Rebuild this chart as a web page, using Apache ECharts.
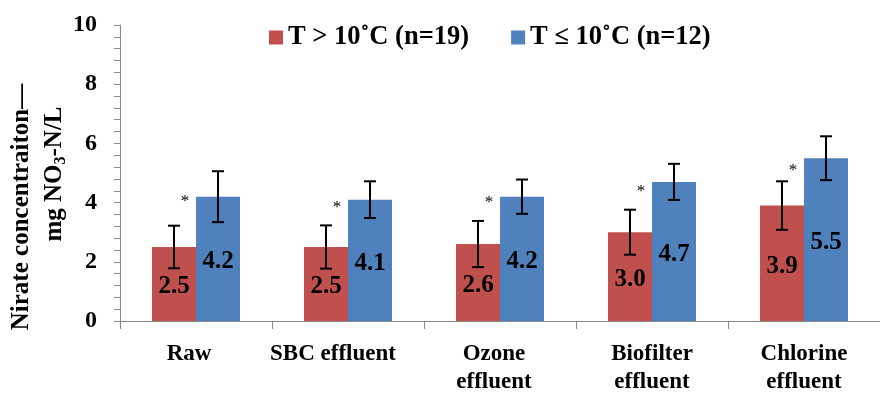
<!DOCTYPE html>
<html>
<head>
<meta charset="utf-8">
<script src="https://cdn.jsdelivr.net/npm/echarts@6/dist/echarts.min.js"></script>
<style>
html,body{margin:0;padding:0;background:#fff;}
#chart{width:880px;height:396px;}
</style>
</head>
<body>
<div id="chart"></div>
<script>
const categories = ['Raw', 'SBC effluent', 'Ozone\neffluent', 'Biofilter\neffluent', 'Chlorine\neffluent'];
const seriesNames = ['T > 10\u02DAC (n=19)', 'T \u2264 10\u02DAC (n=12)'];
const warmValues = [2.5, 2.5, 2.6, 3.0, 3.9];
const coldValues = [4.2, 4.1, 4.2, 4.7, 5.5];
const warmErrors = [0.72, 0.73, 0.78, 0.76, 0.82];
const coldErrors = [0.86, 0.62, 0.58, 0.61, 0.74];
const asteriskY = [4.02, 3.85, 3.99, 4.36, 5.10];
const yTicks = [0, 2, 4, 6, 8, 10];

const FONT = '"Liberation Serif", "Times New Roman", serif';
const RED = '#C0504D';
const BLUE = '#4F81BD';
const BAR_W = 44;
// horizontal label nudges (right padding in px shifts label left by half)
const labelPad = [14, 30, 12, 0, 0];

const chart = echarts.init(document.getElementById('chart'), null, {renderer: 'canvas'});

function errorSeries(values, errors, dx) {
  return {
    type: 'custom',
    silent: true,
    z: 5,
    data: values.map((v, i) => [i, v, errors[i]]),
    renderItem: function (params, api) {
      const i = api.value(0), v = api.value(1), e = api.value(2);
      const top = api.coord([i, v + e]);
      const bot = api.coord([i, v - e]);
      const x = top[0] + dx;
      const cap = 6;
      const st = {stroke: '#000', lineWidth: 2};
      return {
        type: 'group',
        children: [
          {type: 'line', shape: {x1: x, y1: top[1], x2: x, y2: bot[1]}, style: st},
          {type: 'line', shape: {x1: x - cap, y1: top[1], x2: x + cap, y2: top[1]}, style: st},
          {type: 'line', shape: {x1: x - cap, y1: bot[1], x2: x + cap, y2: bot[1]}, style: st}
        ]
      };
    }
  };
}

const rich = {};
labelPad.forEach(function (p, i) {
  rich['c' + i] = {
    fontFamily: FONT, fontWeight: 'bold', fontSize: 23, lineHeight: 28, color: '#000',
    padding: [0, p, 0, 0]
  };
});

const option = {
  animation: false,
  backgroundColor: '#fff',
  textStyle: {fontFamily: FONT},
  legend: {
    data: seriesNames,
    left: 264,
    top: 19,
    itemWidth: 14,
    itemHeight: 14,
    itemGap: 42,
    icon: 'rect',
    textStyle: {fontFamily: FONT, fontWeight: 'bold', fontSize: 26.5, color: '#000'}
  },
  grid: {left: 120, top: 25, width: 768, height: 296, containLabel: false},
  xAxis: {
    type: 'category',
    data: categories,
    axisLine: {lineStyle: {color: '#888', width: 1}},
    axisTick: {show: true, length: 8, inside: false, alignWithLabel: false, lineStyle: {color: '#888'}},
    axisLabel: {
      interval: 0,
      margin: 19,
      fontFamily: FONT,
      fontWeight: 'bold',
      fontSize: 23,
      lineHeight: 28,
      color: '#000',
      formatter: function (v, i) {
        return v.split('\n').map(function (s) { return '{c' + i + '|' + s + '}'; }).join('\n');
      },
      rich: rich
    }
  },
  yAxis: {
    type: 'value',
    min: 0,
    max: 10,
    interval: 2,
    axisLine: {show: true, lineStyle: {color: '#888', width: 1}},
    axisTick: {show: true, length: 6, inside: false, lineStyle: {color: '#888'}},
    minorTick: {show: true, splitNumber: 5, length: 6, lineStyle: {color: '#888'}},
    splitLine: {show: false},
    axisLabel: {
      margin: 23,
      fontFamily: FONT,
      fontWeight: 'bold',
      fontSize: 24,
      color: '#000',
      formatter: function (v) { return yTicks.indexOf(v) >= 0 ? String(v) : ''; }
    }
  },
  graphic: [
    {
      type: 'text',
      x: 22, y: 207,
      rotation: Math.PI / 2,
      style: {
        text: 'Nirate concentraiton\u2014',
        font: 'bold 25px ' + FONT,
        fill: '#000',
        align: 'center',
        verticalAlign: 'middle'
      }
    },
    {
      type: 'text',
      x: 55, y: 174,
      rotation: Math.PI / 2,
      style: {
        text: 'mg NO{sub|3}-N/L',
        font: 'bold 25px ' + FONT,
        fill: '#000',
        align: 'center',
        verticalAlign: 'middle',
        rich: {
          sub: {font: 'bold 16px ' + FONT, fill: '#000', verticalAlign: 'bottom', padding: [12, 0, 0, 0]}
        }
      }
    }
  ],
  series: [
    {
      name: seriesNames[0],
      type: 'bar',
      data: warmValues,
      barWidth: BAR_W,
      barGap: '0%',
      itemStyle: {color: RED},
      label: {
        show: true,
        position: 'inside',
        offset: [0, 3],
        fontFamily: FONT,
        fontWeight: 'bold',
        fontSize: 25,
        color: '#000',
        formatter: function (p) { return p.value.toFixed(1); }
      }
    },
    {
      name: seriesNames[1],
      type: 'bar',
      data: coldValues,
      barWidth: BAR_W,
      barGap: '0%',
      itemStyle: {color: BLUE},
      label: {
        show: true,
        position: 'inside',
        offset: [0, 3],
        fontFamily: FONT,
        fontWeight: 'bold',
        fontSize: 25,
        color: '#000',
        formatter: function (p) { return p.value.toFixed(1); }
      }
    },
    errorSeries(warmValues, warmErrors, -BAR_W / 2),
    errorSeries(coldValues, coldErrors, BAR_W / 2),
    {
      type: 'custom',
      silent: true,
      z: 6,
      data: asteriskY.map((v, i) => [i, v]),
      renderItem: function (params, api) {
        const p = api.coord([api.value(0), api.value(1)]);
        return {
          type: 'text',
          x: p[0] - 11,
          y: p[1],
          style: {text: '*', font: '17px ' + FONT, fill: '#000', align: 'center', verticalAlign: 'middle'}
        };
      }
    }
  ]
};
chart.setOption(option);
</script>
</body>
</html>
